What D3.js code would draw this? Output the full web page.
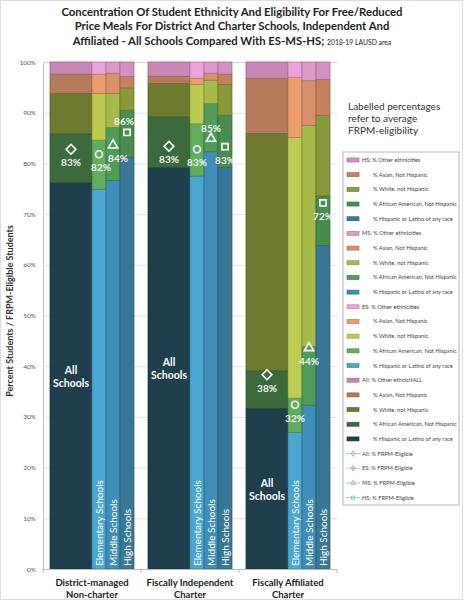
<!DOCTYPE html>
<html>
<head>
<meta charset="utf-8">
<script src="https://cdn.jsdelivr.net/npm/d3@7"></script>
<style>
  body { margin: 0; background: #fff; }
  svg { font-family: Lato, "Open Sans", sans-serif; }
</style>
</head>
<body>
<div class="gv-chart"></div>
<script>
// ---- data ----
var groups = ["District-managed|Non-charter", "Fiscally Independent|Charter", "Fiscally Affiliated|Charter"];
var levels = ["All", "ES", "MS", "HS"];
var levelNames = ["All Schools", "Elementary Schools", "Middle Schools", "High Schools"];
var ethnicities = ["Hispanic or Latino of any race", "African American, Not Hispanic", "White, not Hispanic", "Asian, Not Hispanic", "Other ethnicities"];

// shares per bar (bottom to top: hispanic, african american, white, asian, other)
var districtShares = [
  [76.2, 9.6, 8.0, 3.8, 2.4],
  [74.9, 9.7, 9.2, 3.8, 2.4],
  [76.6, 10.5, 6.7, 4.0, 2.2],
  [81.2, 9.3, 4.4, 2.2, 2.9]
];
var independentShares = [
  [79.2, 10.0, 6.6, 1.4, 2.8],
  [77.5, 10.3, 7.8, 1.2, 3.2],
  [82.3, 9.5, 4.6, 1.4, 2.2],
  [79.2, 10.3, 6.1, 2.0, 2.4]
];
var affiliatedShares = [
  [31.7, 7.4, 46.8, 10.9, 3.2],
  [26.9, 6.8, 51.4, 11.9, 3.0],
  [32.3, 11.6, 43.6, 8.8, 3.7],
  [63.8, 9.8, 15.9, 7.1, 3.4]
];
// average FRPM-eligibility, All / ES / MS / HS
var districtFrpm = [82.8, 81.8, 83.6, 86.1];
var independentFrpm = [83.4, 82.8, 84.9, 83.3];
var affiliatedFrpm = [38.3, 32.4, 43.6, 72.2];

var yTicks = [0, 10, 20, 30, 40, 50, 60, 70, 80, 90, 100];

var legendItems = [
  "HS: % Other ethnicities", "% Asian, Not Hispanic", "% White, not Hispanic", "% African American, Not Hispanic", "% Hispanic or Latino of any race",
  "MS: % Other ethnicities", "% Asian, Not Hispanic", "% White, not Hispanic", "% African American, Not Hispanic", "% Hispanic or Latino of any race",
  "ES: % Other ethnicities", "% Asian, Not Hispanic", "% White, not Hispanic", "% African American, Not Hispanic", "% Hispanic or Latino of any race",
  "All: % Other ethnicitALL", "% Asian, Not Hispanic", "% White, not Hispanic", "% African American, Not Hispanic", "% Hispanic or Latino of any race"
];
var frpmLegend = ["All: % FRPM-Eligible", "ES: % FRPM-Eligible", "MS: % FRPM-Eligible", "HS:  % FRPM-Eligible"];

// ---- styling ----
var colors = {
  All: ["#1f3f4d", "#3b6b3d", "#6d7a30", "#b47b5b", "#c887b4"],
  ES:  ["#4ca6d2", "#5fad5d", "#bdcb52", "#eb9d6e", "#eda3d9"],
  MS:  ["#3f8eb8", "#4f9b58", "#a7ba49", "#d9906a", "#dd99ca"],
  HS:  ["#387896", "#4a8b4f", "#889a3c", "#c6825f", "#d290c3"]
};
// All uses a square turned 45deg (wide diamond)
var markers = {All: d3.symbolSquare, ES: d3.symbolCircle, MS: d3.symbolTriangle, HS: d3.symbolSquare};
// which marker labels sit above their marker instead of below
var labelAbove = [[false, false, false, true], [false, false, true, false], [false, false, false, false]];
var labelNudge = [[0, 2, 5, -3], [0, 0, 0, 0], [0, 0, 0, 0]];

var shares = [districtShares, independentShares, affiliatedShares];
var frpm = [districtFrpm, independentFrpm, affiliatedFrpm];

var W = 463, H = 600;
var svg = d3.select(".gv-chart").append("svg").attr("width", W).attr("height", H);

svg.append("rect").attr("x", 0.5).attr("y", 0.5).attr("width", W - 1).attr("height", H - 1)
  .attr("fill", "#fff").attr("stroke", "#ddd");

// title
var title = svg.append("text").attr("text-anchor", "middle").attr("font-weight", "bold")
  .attr("font-size", 11.3).attr("fill", "#222");
title.append("tspan").attr("x", 232).attr("y", 16).text("Concentration Of Student Ethnicity And Eligibility For Free/Reduced");
title.append("tspan").attr("x", 232).attr("y", 30).text("Price Meals For District And Charter Schools, Independent And");
var t3 = title.append("tspan").attr("x", 232).attr("y", 45);
t3.append("tspan").text("Affiliated - All Schools Compared With ES-MS-HS; ");
t3.append("tspan").attr("font-size", 6.8).attr("font-weight", "normal").text("2018-19 LAUSD area");

// scales
var y = d3.scaleLinear().domain([0, 100]).range([569, 62]);
var x = d3.scaleBand().domain(groups).range([43, 337]).paddingInner(1 / 7).paddingOuter(1 / 14);
var units = [3, 1, 1, 1];
var sub = d3.scaleLinear().domain([0, d3.sum(units)]).range([0, x.bandwidth()]);
var unitStart = units.map(function(u, i) { return d3.sum(units.slice(0, i)); });
function barX(gi, li) { return x(groups[gi]) + sub(unitStart[li]); }
function barW(li) { return sub(units[li]) - sub(0); }

// grid + y axis
var yAxis = svg.append("g").attr("transform", "translate(43,0)")
  .call(d3.axisLeft(y).tickValues(yTicks).tickSize(-(337 - 43)).tickFormat(function(d) { return d + "%"; }));
yAxis.select(".domain").attr("stroke", "#bbb");
yAxis.selectAll(".tick line").attr("stroke", "#dcdcdc").attr("stroke-width", 0.8);
yAxis.selectAll(".tick text").attr("font-size", 6.5).attr("fill", "#555").attr("x", -7)
  .attr("font-family", "Lato, sans-serif");

svg.append("text").attr("transform", "translate(13,311) rotate(-90)").attr("text-anchor", "middle")
  .attr("font-weight", "bold").attr("font-size", 9).attr("fill", "#333")
  .text("Percent Students / FRPM-Eligible Students");

// bars
var bars = [];
groups.forEach(function(g, gi) {
  levels.forEach(function(lv, li) {
    var acc = 0;
    shares[gi][li].forEach(function(v, ei) {
      bars.push({g: gi, l: li, lv: lv, e: ei, y0: acc, y1: acc + v});
      acc += v;
    });
  });
});

svg.append("g").selectAll("rect").data(bars).enter().append("rect")
  .attr("x", function(d) { return barX(d.g, d.l); })
  .attr("width", function(d) { return barW(d.l); })
  .attr("y", function(d) { return y(d.y1); })
  .attr("height", function(d) { return y(d.y0) - y(d.y1); })
  .attr("fill", function(d) { return colors[d.lv][d.e]; })
  .attr("stroke", function(d) { return d3.color(colors[d.lv][d.e]).darker(0.9); })
  .attr("stroke-width", 0.7);

// bottom axis with ticks at group edges
svg.append("line").attr("x1", 43).attr("x2", 337).attr("y1", 569.5).attr("y2", 569.5).attr("stroke", "#bbb");
[0, 1, 2, 3].forEach(function(i) {
  var tx = 43 + i * x.step();
  svg.append("line").attr("x1", tx).attr("x2", tx).attr("y1", 569).attr("y2", 573).attr("stroke", "#bbb");
});

// category labels
groups.forEach(function(g) {
  var t = svg.append("text").attr("text-anchor", "middle").attr("font-weight", "bold")
    .attr("font-size", 9.5).attr("fill", "#222");
  g.split("|").forEach(function(line, i) {
    t.append("tspan").attr("x", x(g) + sub(3)).attr("y", 586 + i * 11.5).text(line);
  });
});

// labels inside bars
groups.forEach(function(g, gi) {
  var hisp = shares[gi][0][0];
  var cy = y(hisp / 2);
  var t = svg.append("text").attr("text-anchor", "middle").attr("font-weight", "bold")
    .attr("font-size", 10.5).attr("fill", "#fff");
  t.append("tspan").attr("x", barX(gi, 0) + barW(0) / 2).attr("y", cy - 2).text("All");
  t.append("tspan").attr("x", barX(gi, 0) + barW(0) / 2).attr("y", cy + 11).text("Schools");
  [1, 2, 3].forEach(function(li) {
    var cx = barX(gi, li) + barW(li) / 2;
    svg.append("text").attr("transform", "translate(" + (cx + 3.6) + ",566) rotate(-90)")
      .attr("font-size", 10).attr("fill", "#fff").text(levelNames[li]);
  });
});

// FRPM markers
groups.forEach(function(g, gi) {
  levels.forEach(function(lv, li) {
    var v = frpm[gi][li];
    var cx = barX(gi, li) + barW(li) / 2;
    svg.append("path").attr("d", d3.symbol().type(markers[lv]).size(lv === "All" ? 48 : 38)())
      .attr("transform", "translate(" + cx + "," + y(v) + ")" + (lv === "All" ? " rotate(45)" : ""))
      .attr("fill", "none").attr("stroke", "#fff").attr("stroke-width", 1.6);
    svg.append("text").attr("text-anchor", "middle").attr("font-weight", "bold").attr("font-size", 10)
      .attr("fill", "#f4f4f4")
      .attr("x", cx + labelNudge[gi][li])
      .attr("y", y(v) + (labelAbove[gi][li] ? -7 : 17))
      .text(Math.round(v) + "%");
  });
});

// note
var note = svg.append("text").attr("font-size", 10).attr("fill", "#333");
["Labelled percentages", "refer to average", "FRPM-eligibility"].forEach(function(s, i) {
  note.append("tspan").attr("x", 348).attr("y", 109.5 + i * 12.3).text(s);
});

// legend
var leg = svg.append("g");
leg.append("rect").attr("x", 343).attr("y", 152).attr("width", 116).attr("height", 353)
  .attr("fill", "#fff").attr("stroke", "#b5b5b5");
var legLevels = ["HS", "MS", "ES", "All"];
legendItems.forEach(function(s, i) {
  var lv = legLevels[Math.floor(i / 5)];
  var ei = 4 - (i % 5);
  var ly = 160 + i * 14.68;
  leg.append("rect").attr("x", 347).attr("y", ly - 2).attr("width", 12).attr("height", 4)
    .attr("fill", colors[lv][ei]).attr("stroke", d3.color(colors[lv][ei]).darker(0.8)).attr("stroke-width", 0.6);
  leg.append("text").attr("x", i % 5 === 0 ? 362 : 373).attr("y", ly + 2)
    .attr("font-size", 5.7).attr("fill", "#444").text(s);
});
var frpmMarkers = [d3.symbolDiamond, d3.symbolCross, d3.symbolTriangle, d3.symbolSquare];
frpmLegend.forEach(function(s, i) {
  var ly = 160 + (20 + i) * 14.68;
  leg.append("line").attr("x1", 346).attr("x2", 360).attr("y1", ly).attr("y2", ly)
    .attr("stroke", "#9cc6de").attr("stroke-width", 1).attr("stroke-dasharray", i === 1 ? "2,1" : null);
  leg.append("path").attr("d", d3.symbol().type(frpmMarkers[i]).size(10)())
    .attr("transform", "translate(353," + ly + ")").attr("fill", "none").attr("stroke", "#7fb3d3").attr("stroke-width", 0.8);
  leg.append("text").attr("x", 362).attr("y", ly + 2).attr("font-size", 5.7).attr("fill", "#444").text(s);
});
</script>
</body>
</html>
